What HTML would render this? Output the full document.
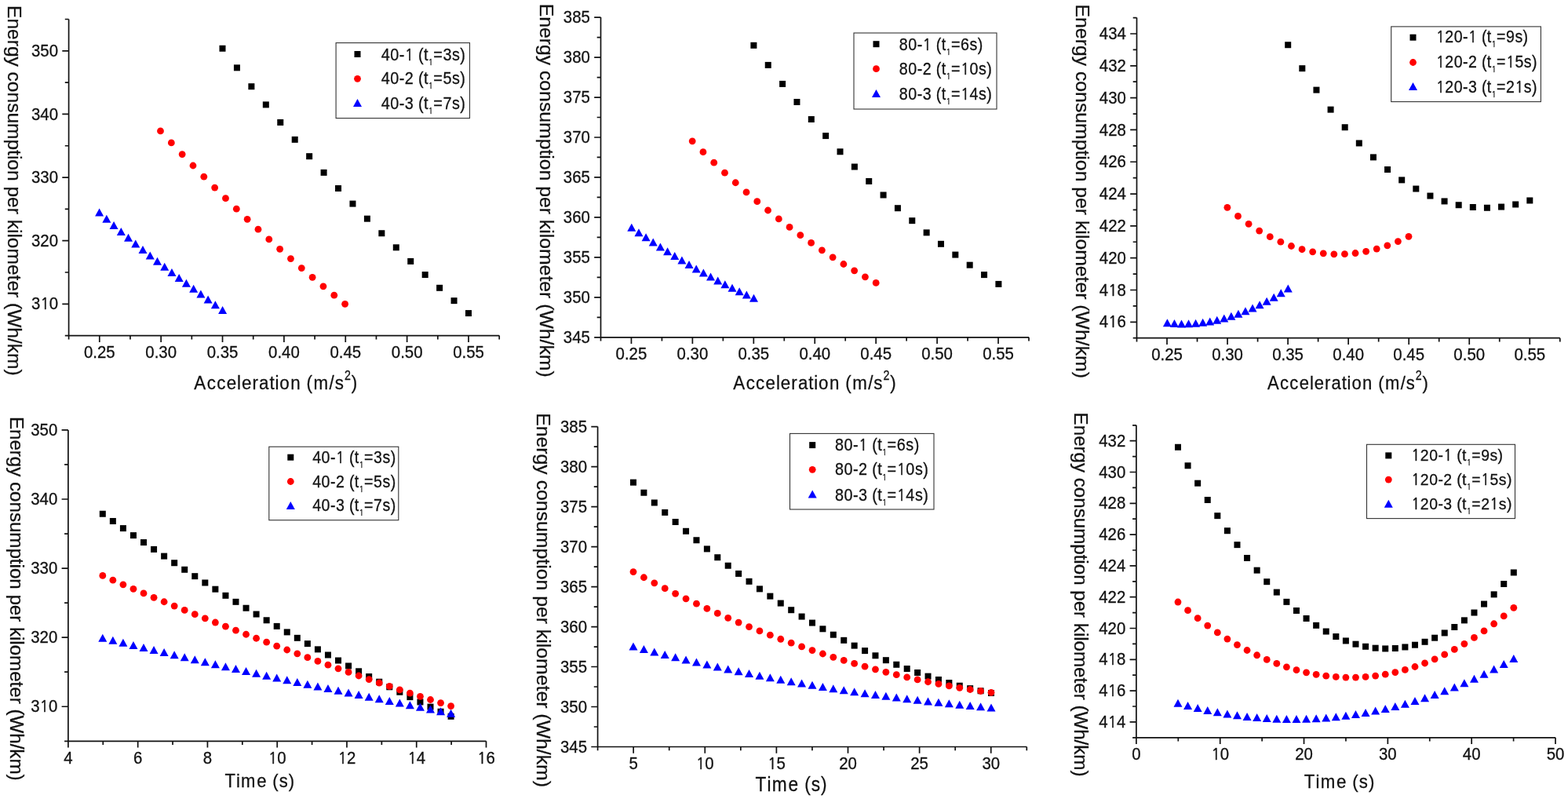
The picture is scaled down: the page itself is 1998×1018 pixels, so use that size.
<!DOCTYPE html><html><head><meta charset="utf-8"><title>Energy consumption per kilometer</title><style>html,body{margin:0;padding:0;background:#fff;overflow:hidden}svg{display:block}</style></head><body>
<svg width="1998" height="1018" viewBox="0 0 1998 1018" font-family="'Liberation Sans', Arial, Helvetica, sans-serif" fill="#111">
<style>text{stroke:#111;stroke-width:0.3px;paint-order:stroke}</style>
<rect width="1998" height="1018" fill="#fff"/>
<path d="M87.6 24.5V427.6H636.2M126.79 427.6v8.3M205.16 427.6v8.3M283.53 427.6v8.3M361.9 427.6v8.3M440.27 427.6v8.3M518.64 427.6v8.3M597.01 427.6v8.3M87.6 427.6v4.8M165.97 427.6v4.8M244.34 427.6v4.8M322.71 427.6v4.8M401.09 427.6v4.8M479.46 427.6v4.8M557.83 427.6v4.8M636.2 427.6v4.8M87.6 387.29h-8.3M87.6 306.67h-8.3M87.6 226.05h-8.3M87.6 145.43h-8.3M87.6 64.81h-8.3M87.6 427.6h-4.8M87.6 346.98h-4.8M87.6 266.36h-4.8M87.6 185.74h-4.8M87.6 105.12h-4.8M87.6 24.5h-4.8" fill="none" stroke="#111" stroke-width="1.7"/>
<text transform="translate(0 456.2) scale(1 1.04)"><tspan x="106.93 118.28 123.95 135.29" y="0" font-size="20.4">0.25</tspan></text>
<text transform="translate(0 456.2) scale(1 1.04)"><tspan x="185.3 196.65 202.32 213.66" y="0" font-size="20.4">0.30</tspan></text>
<text transform="translate(0 456.2) scale(1 1.04)"><tspan x="263.68 275.02 280.69 292.04" y="0" font-size="20.4">0.35</tspan></text>
<text transform="translate(0 456.2) scale(1 1.04)"><tspan x="342.05 353.39 359.06 370.41" y="0" font-size="20.4">0.40</tspan></text>
<text transform="translate(0 456.2) scale(1 1.04)"><tspan x="420.42 431.76 437.43 448.78" y="0" font-size="20.4">0.45</tspan></text>
<text transform="translate(0 456.2) scale(1 1.04)"><tspan x="498.79 510.14 515.8 527.15" y="0" font-size="20.4">0.50</tspan></text>
<text transform="translate(0 456.2) scale(1 1.04)"><tspan x="577.16 588.51 594.18 605.52" y="0" font-size="20.4">0.55</tspan></text>
<text transform="translate(0 394.39) scale(1 1.04)"><tspan x="39.96" y="0" font-size="20.4">3</tspan><tspan x="51.46" y="0" font-family="NanumGothic, &#39;Liberation Sans&#39;, sans-serif" stroke-width="0.51" font-size="18.67">1</tspan><tspan x="62.65" y="0" font-size="20.4">0</tspan></text>
<text transform="translate(0 313.77) scale(1 1.04)"><tspan x="39.96 51.31 62.65" y="0" font-size="20.4">320</tspan></text>
<text transform="translate(0 233.15) scale(1 1.04)"><tspan x="39.96 51.31 62.65" y="0" font-size="20.4">330</tspan></text>
<text transform="translate(0 152.53) scale(1 1.04)"><tspan x="39.96 51.31 62.65" y="0" font-size="20.4">340</tspan></text>
<text transform="translate(0 71.91) scale(1 1.04)"><tspan x="39.96 51.31 62.65" y="0" font-size="20.4">350</tspan></text>
<text transform="translate(10 0) rotate(90) scale(1 1)"><tspan x="7.09 23.44 37.08 50.72 58.89 72.53 84.79 91.6 103.86 117.5 131.14 143.4 157.04 177.46 191.1 197.92 203.36 217 230.64 237.45 251.09 264.73 272.9 279.71 291.97 297.42 302.87 316.5 336.93 350.57 357.38 371.02 379.19 386 394.17 417.31 430.95 437.76 450.02 470.45" y="0" font-size="24.52">Energy consumption per kilometer (Wh/km)</tspan></text>
<text transform="translate(0 495.5) scale(0.9 1)"><tspan x="274.84 293.03 306.83 320.71 335.61 342.21 357.25 366.76 381.73 389.32 395.92 411.27 426.25 433.99 443.88 466.11 474.09" y="0" font-size="24.85">Acceleration (m/s</tspan><tspan x="487.69" y="-11.8" font-size="15.8">2</tspan><tspan x="497.43" y="0" font-size="24.85">)</tspan></text>
<g fill="#000"><rect x="279.5" y="57.76" width="8" height="8"/><rect x="297.94" y="82.33" width="8" height="8"/><rect x="316.38" y="106.19" width="8" height="8"/><rect x="334.82" y="129.39" width="8" height="8"/><rect x="353.26" y="151.94" width="8" height="8"/><rect x="371.71" y="173.85" width="8" height="8"/><rect x="390.15" y="195.16" width="8" height="8"/><rect x="408.59" y="215.87" width="8" height="8"/><rect x="427.03" y="236.02" width="8" height="8"/><rect x="445.47" y="255.61" width="8" height="8"/><rect x="463.91" y="274.68" width="8" height="8"/><rect x="482.35" y="293.24" width="8" height="8"/><rect x="500.79" y="311.32" width="8" height="8"/><rect x="519.24" y="328.92" width="8" height="8"/><rect x="537.68" y="346.08" width="8" height="8"/><rect x="556.12" y="362.81" width="8" height="8"/><rect x="574.56" y="379.14" width="8" height="8"/><rect x="593" y="395.08" width="8" height="8"/></g>
<g fill="#f00"><circle cx="204.5" cy="166.95" r="4.4"/><circle cx="218.33" cy="181.89" r="4.4"/><circle cx="232.16" cy="196.58" r="4.4"/><circle cx="245.99" cy="211" r="4.4"/><circle cx="259.82" cy="225.16" r="4.4"/><circle cx="273.65" cy="239.07" r="4.4"/><circle cx="287.48" cy="252.72" r="4.4"/><circle cx="301.31" cy="266.13" r="4.4"/><circle cx="315.14" cy="279.29" r="4.4"/><circle cx="328.96" cy="292.22" r="4.4"/><circle cx="342.79" cy="304.9" r="4.4"/><circle cx="356.62" cy="317.35" r="4.4"/><circle cx="370.45" cy="329.56" r="4.4"/><circle cx="384.28" cy="341.55" r="4.4"/><circle cx="398.11" cy="353.31" r="4.4"/><circle cx="411.94" cy="364.86" r="4.4"/><circle cx="425.77" cy="376.18" r="4.4"/><circle cx="439.6" cy="387.29" r="4.4"/></g>
<g fill="#00f"><path d="M126.6 265.43L132.1 275.43L121.1 275.43Z"/><path d="M135.84 273.82L141.34 283.82L130.34 283.82Z"/><path d="M145.07 282L150.57 292L139.57 292Z"/><path d="M154.31 290L159.81 300L148.81 300Z"/><path d="M163.54 297.82L169.04 307.82L158.04 307.82Z"/><path d="M172.78 305.49L178.28 315.49L167.28 315.49Z"/><path d="M182.01 313.01L187.51 323.01L176.51 323.01Z"/><path d="M191.25 320.4L196.75 330.4L185.75 330.4Z"/><path d="M200.48 327.67L205.98 337.67L194.98 337.67Z"/><path d="M209.72 334.83L215.22 344.83L204.22 344.83Z"/><path d="M218.95 341.91L224.45 351.91L213.45 351.91Z"/><path d="M228.19 348.91L233.69 358.91L222.69 358.91Z"/><path d="M237.42 355.84L242.92 365.84L231.92 365.84Z"/><path d="M246.66 362.73L252.16 372.73L241.16 372.73Z"/><path d="M255.89 369.57L261.39 379.57L250.39 379.57Z"/><path d="M265.13 376.4L270.63 386.4L259.63 386.4Z"/><path d="M274.36 383.22L279.86 393.22L268.86 393.22Z"/><path d="M283.6 390.04L289.1 400.04L278.1 400.04Z"/></g>
<rect x="428.1" y="54.6" width="170.4" height="96" fill="#fff" stroke="#333" stroke-width="1.1"/>
<g fill="#000"><rect x="451.5" y="65" width="8" height="8"/></g>
<g fill="#f00"><circle cx="455.5" cy="100.3" r="4.4"/></g>
<g fill="#00f"><path d="M455.5 126.1L461 136.1L450 136.1Z"/></g>
<text transform="translate(0 76.6) scale(0.95 1.03)"><tspan x="511.21 523.41 535.5" y="0" font-size="20.85">40-</tspan><tspan x="543.04" y="0" font-family="NanumGothic, &#39;Liberation Sans&#39;, sans-serif" stroke-width="0.52" font-size="19.08">1</tspan><tspan x="554.98 561.11 568.39" y="0" font-size="20.85"> (t</tspan><tspan x="574.56" y="6" font-family="NanumGothic, &#39;Liberation Sans&#39;, sans-serif" stroke-width="0.29" font-size="10.52">1</tspan><tspan x="581.38 594.19 606.36 617.24" y="0" font-size="20.85">=3s)</tspan></text>
<text transform="translate(0 107.1) scale(0.95 1.03)"><tspan x="511.21 523.41 535.5 542.93 554.98 561.11 568.39" y="0" font-size="20.85">40-2 (t</tspan><tspan x="574.56" y="6" font-family="NanumGothic, &#39;Liberation Sans&#39;, sans-serif" stroke-width="0.29" font-size="10.52">1</tspan><tspan x="581.38 594.19 606.36 617.24" y="0" font-size="20.85">=5s)</tspan></text>
<text transform="translate(0 138.8) scale(0.95 1.03)"><tspan x="511.21 523.41 535.5 542.93 554.98 561.11 568.39" y="0" font-size="20.85">40-3 (t</tspan><tspan x="574.56" y="6" font-family="NanumGothic, &#39;Liberation Sans&#39;, sans-serif" stroke-width="0.29" font-size="10.52">1</tspan><tspan x="581.38 594.19 606.36 617.24" y="0" font-size="20.85">=7s)</tspan></text>
<path d="M765.5 22.1V429.8H1311M804.46 429.8v8.3M882.39 429.8v8.3M960.32 429.8v8.3M1038.25 429.8v8.3M1116.18 429.8v8.3M1194.11 429.8v8.3M1272.04 429.8v8.3M765.5 429.8v4.8M843.43 429.8v4.8M921.36 429.8v4.8M999.29 429.8v4.8M1077.21 429.8v4.8M1155.14 429.8v4.8M1233.07 429.8v4.8M1311 429.8v4.8M765.5 429.8h-8.3M765.5 378.84h-8.3M765.5 327.88h-8.3M765.5 276.91h-8.3M765.5 225.95h-8.3M765.5 174.99h-8.3M765.5 124.03h-8.3M765.5 73.06h-8.3M765.5 22.1h-8.3M765.5 404.32h-4.8M765.5 353.36h-4.8M765.5 302.39h-4.8M765.5 251.43h-4.8M765.5 200.47h-4.8M765.5 149.51h-4.8M765.5 98.54h-4.8M765.5 47.58h-4.8" fill="none" stroke="#111" stroke-width="1.7"/>
<text transform="translate(0 458.4) scale(1 1.04)"><tspan x="784.61 795.96 801.63 812.97" y="0" font-size="20.4">0.25</tspan></text>
<text transform="translate(0 458.4) scale(1 1.04)"><tspan x="862.54 873.89 879.55 890.9" y="0" font-size="20.4">0.30</tspan></text>
<text transform="translate(0 458.4) scale(1 1.04)"><tspan x="940.47 951.81 957.48 968.83" y="0" font-size="20.4">0.35</tspan></text>
<text transform="translate(0 458.4) scale(1 1.04)"><tspan x="1018.4 1029.74 1035.41 1046.76" y="0" font-size="20.4">0.40</tspan></text>
<text transform="translate(0 458.4) scale(1 1.04)"><tspan x="1096.33 1107.67 1113.34 1124.69" y="0" font-size="20.4">0.45</tspan></text>
<text transform="translate(0 458.4) scale(1 1.04)"><tspan x="1174.25 1185.6 1191.27 1202.61" y="0" font-size="20.4">0.50</tspan></text>
<text transform="translate(0 458.4) scale(1 1.04)"><tspan x="1252.18 1263.53 1269.2 1280.54" y="0" font-size="20.4">0.55</tspan></text>
<text transform="translate(0 436.9) scale(1 1.04)"><tspan x="717.86 729.21 740.55" y="0" font-size="20.4">345</tspan></text>
<text transform="translate(0 385.94) scale(1 1.04)"><tspan x="717.86 729.21 740.55" y="0" font-size="20.4">350</tspan></text>
<text transform="translate(0 334.98) scale(1 1.04)"><tspan x="717.86 729.21 740.55" y="0" font-size="20.4">355</tspan></text>
<text transform="translate(0 284.01) scale(1 1.04)"><tspan x="717.86 729.21 740.55" y="0" font-size="20.4">360</tspan></text>
<text transform="translate(0 233.05) scale(1 1.04)"><tspan x="717.86 729.21 740.55" y="0" font-size="20.4">365</tspan></text>
<text transform="translate(0 182.09) scale(1 1.04)"><tspan x="717.86 729.21 740.55" y="0" font-size="20.4">370</tspan></text>
<text transform="translate(0 131.13) scale(1 1.04)"><tspan x="717.86 729.21 740.55" y="0" font-size="20.4">375</tspan></text>
<text transform="translate(0 80.16) scale(1 1.04)"><tspan x="717.86 729.21 740.55" y="0" font-size="20.4">380</tspan></text>
<text transform="translate(0 29.2) scale(1 1.04)"><tspan x="717.86 729.21 740.55" y="0" font-size="20.4">385</tspan></text>
<text transform="translate(688.2 0) rotate(90) scale(1 1)"><tspan x="4.67 21.18 34.95 48.71 56.96 70.72 83.1 89.98 102.35 116.12 129.88 142.26 156.03 176.65 190.41 197.29 202.79 216.56 230.32 237.2 250.97 264.73 272.98 279.85 292.23 297.73 303.23 316.99 337.61 351.38 358.26 372.02 380.27 387.14 395.39 418.75 432.52 439.39 451.77 472.39" y="0" font-size="24.75">Energy consumption per kilometer (Wh/km)</tspan></text>
<text transform="translate(0 495.9) scale(0.9 1)"><tspan x="1038.17 1056.32 1070.1 1083.96 1098.82 1105.4 1120.42 1129.9 1144.85 1152.43 1159.01 1174.33 1189.27 1197.01 1206.87 1229.06 1237.02" y="0" font-size="24.8">Acceleration (m/s</tspan><tspan x="1250.6" y="-11.8" font-size="15.8">2</tspan><tspan x="1260.33" y="0" font-size="24.8">)</tspan></text>
<g fill="#000"><rect x="956.4" y="53.83" width="8" height="8"/><rect x="974.75" y="78.9" width="8" height="8"/><rect x="993.11" y="102.93" width="8" height="8"/><rect x="1011.46" y="125.96" width="8" height="8"/><rect x="1029.81" y="148" width="8" height="8"/><rect x="1048.16" y="169.09" width="8" height="8"/><rect x="1066.52" y="189.26" width="8" height="8"/><rect x="1084.87" y="208.52" width="8" height="8"/><rect x="1103.22" y="226.92" width="8" height="8"/><rect x="1121.58" y="244.48" width="8" height="8"/><rect x="1139.93" y="261.22" width="8" height="8"/><rect x="1158.28" y="277.17" width="8" height="8"/><rect x="1176.64" y="292.37" width="8" height="8"/><rect x="1194.99" y="306.83" width="8" height="8"/><rect x="1213.34" y="320.59" width="8" height="8"/><rect x="1231.69" y="333.68" width="8" height="8"/><rect x="1250.05" y="346.12" width="8" height="8"/><rect x="1268.4" y="357.93" width="8" height="8"/></g>
<g fill="#f00"><circle cx="882.2" cy="179.81" r="4.4"/><circle cx="895.96" cy="193.71" r="4.4"/><circle cx="909.73" cy="207.16" r="4.4"/><circle cx="923.49" cy="220.18" r="4.4"/><circle cx="937.26" cy="232.76" r="4.4"/><circle cx="951.02" cy="244.92" r="4.4"/><circle cx="964.79" cy="256.66" r="4.4"/><circle cx="978.55" cy="268" r="4.4"/><circle cx="992.32" cy="278.93" r="4.4"/><circle cx="1006.08" cy="289.47" r="4.4"/><circle cx="1019.85" cy="299.63" r="4.4"/><circle cx="1033.61" cy="309.4" r="4.4"/><circle cx="1047.38" cy="318.8" r="4.4"/><circle cx="1061.14" cy="327.83" r="4.4"/><circle cx="1074.91" cy="336.51" r="4.4"/><circle cx="1088.67" cy="344.84" r="4.4"/><circle cx="1102.44" cy="352.82" r="4.4"/><circle cx="1116.2" cy="360.46" r="4.4"/></g>
<g fill="#00f"><path d="M804.8 284.78L810.3 294.78L799.3 294.78Z"/><path d="M813.96 291.14L819.46 301.14L808.46 301.14Z"/><path d="M823.12 297.37L828.62 307.37L817.62 307.37Z"/><path d="M832.28 303.48L837.78 313.48L826.78 313.48Z"/><path d="M841.44 309.47L846.94 319.47L835.94 319.47Z"/><path d="M850.59 315.32L856.09 325.32L845.09 325.32Z"/><path d="M859.75 321.04L865.25 331.04L854.25 331.04Z"/><path d="M868.91 326.62L874.41 336.62L863.41 336.62Z"/><path d="M878.07 332.08L883.57 342.08L872.57 342.08Z"/><path d="M887.23 337.39L892.73 347.39L881.73 347.39Z"/><path d="M896.39 342.56L901.89 352.56L890.89 352.56Z"/><path d="M905.55 347.6L911.05 357.6L900.05 357.6Z"/><path d="M914.71 352.49L920.21 362.49L909.21 362.49Z"/><path d="M923.86 357.23L929.36 367.23L918.36 367.23Z"/><path d="M933.02 361.83L938.52 371.83L927.52 371.83Z"/><path d="M942.18 366.28L947.68 376.28L936.68 376.28Z"/><path d="M951.34 370.58L956.84 380.58L945.84 380.58Z"/><path d="M960.5 374.73L966 384.73L955 384.73Z"/></g>
<rect x="1088" y="42" width="182" height="97" fill="#fff" stroke="#333" stroke-width="1.1"/>
<g fill="#000"><rect x="1112.5" y="52.2" width="8" height="8"/></g>
<g fill="#f00"><circle cx="1116.5" cy="87.7" r="4.4"/></g>
<g fill="#00f"><path d="M1116.5 114L1122 124L1111 124Z"/></g>
<text transform="translate(0 63.6) scale(0.95 1.03)"><tspan x="1206.05 1218.17 1230.16" y="0" font-size="20.7">80-</tspan><tspan x="1237.65" y="0" font-family="NanumGothic, &#39;Liberation Sans&#39;, sans-serif" stroke-width="0.52" font-size="18.94">1</tspan><tspan x="1249.51 1255.59 1262.82" y="0" font-size="20.7"> (t</tspan><tspan x="1268.95" y="6" font-family="NanumGothic, &#39;Liberation Sans&#39;, sans-serif" stroke-width="0.29" font-size="10.52">1</tspan><tspan x="1275.77 1288.48 1300.57 1311.37" y="0" font-size="20.7">=6s)</tspan></text>
<text transform="translate(0 94.8) scale(0.95 1.03)"><tspan x="1206.05 1218.17 1230.16 1237.54 1249.51 1255.59 1262.82" y="0" font-size="20.7">80-2 (t</tspan><tspan x="1268.95" y="6" font-family="NanumGothic, &#39;Liberation Sans&#39;, sans-serif" stroke-width="0.29" font-size="10.52">1</tspan><tspan x="1275.77" y="0" font-size="20.7">=</tspan><tspan x="1288.59" y="0" font-family="NanumGothic, &#39;Liberation Sans&#39;, sans-serif" stroke-width="0.52" font-size="18.94">1</tspan><tspan x="1300.6 1312.69 1323.49" y="0" font-size="20.7">0s)</tspan></text>
<text transform="translate(0 127.2) scale(0.95 1.03)"><tspan x="1206.05 1218.17 1230.16 1237.54 1249.51 1255.59 1262.82" y="0" font-size="20.7">80-3 (t</tspan><tspan x="1268.95" y="6" font-family="NanumGothic, &#39;Liberation Sans&#39;, sans-serif" stroke-width="0.29" font-size="10.52">1</tspan><tspan x="1275.77" y="0" font-size="20.7">=</tspan><tspan x="1288.59" y="0" font-family="NanumGothic, &#39;Liberation Sans&#39;, sans-serif" stroke-width="0.52" font-size="18.94">1</tspan><tspan x="1300.6 1312.69 1323.49" y="0" font-size="20.7">4s)</tspan></text>
<path d="M1448.5 22.6V430.7H1987.8M1487.02 430.7v8.3M1564.06 430.7v8.3M1641.11 430.7v8.3M1718.15 430.7v8.3M1795.19 430.7v8.3M1872.24 430.7v8.3M1949.28 430.7v8.3M1448.5 430.7v4.8M1525.54 430.7v4.8M1602.59 430.7v4.8M1679.63 430.7v4.8M1756.67 430.7v4.8M1833.71 430.7v4.8M1910.76 430.7v4.8M1987.8 430.7v4.8M1448.5 410.29h-8.3M1448.5 369.49h-8.3M1448.5 328.68h-8.3M1448.5 287.87h-8.3M1448.5 247.06h-8.3M1448.5 206.24h-8.3M1448.5 165.44h-8.3M1448.5 124.62h-8.3M1448.5 83.82h-8.3M1448.5 43.01h-8.3M1448.5 430.7h-4.8M1448.5 389.89h-4.8M1448.5 349.08h-4.8M1448.5 308.27h-4.8M1448.5 267.46h-4.8M1448.5 226.65h-4.8M1448.5 185.84h-4.8M1448.5 145.03h-4.8M1448.5 104.22h-4.8M1448.5 63.41h-4.8M1448.5 22.6h-4.8" fill="none" stroke="#111" stroke-width="1.7"/>
<text transform="translate(0 459.3) scale(1 1.04)"><tspan x="1467.17 1478.51 1484.18 1495.53" y="0" font-size="20.4">0.25</tspan></text>
<text transform="translate(0 459.3) scale(1 1.04)"><tspan x="1544.21 1555.56 1561.23 1572.57" y="0" font-size="20.4">0.30</tspan></text>
<text transform="translate(0 459.3) scale(1 1.04)"><tspan x="1621.25 1632.6 1638.27 1649.61" y="0" font-size="20.4">0.35</tspan></text>
<text transform="translate(0 459.3) scale(1 1.04)"><tspan x="1698.3 1709.64 1715.31 1726.66" y="0" font-size="20.4">0.40</tspan></text>
<text transform="translate(0 459.3) scale(1 1.04)"><tspan x="1775.34 1786.69 1792.35 1803.7" y="0" font-size="20.4">0.45</tspan></text>
<text transform="translate(0 459.3) scale(1 1.04)"><tspan x="1852.38 1863.73 1869.4 1880.74" y="0" font-size="20.4">0.50</tspan></text>
<text transform="translate(0 459.3) scale(1 1.04)"><tspan x="1929.43 1940.77 1946.44 1957.79" y="0" font-size="20.4">0.55</tspan></text>
<text transform="translate(0 417.39) scale(1 1.04)"><tspan x="1400.86" y="0" font-size="20.4">4</tspan><tspan x="1412.36" y="0" font-family="NanumGothic, &#39;Liberation Sans&#39;, sans-serif" stroke-width="0.51" font-size="18.67">1</tspan><tspan x="1423.55" y="0" font-size="20.4">6</tspan></text>
<text transform="translate(0 376.59) scale(1 1.04)"><tspan x="1400.86" y="0" font-size="20.4">4</tspan><tspan x="1412.36" y="0" font-family="NanumGothic, &#39;Liberation Sans&#39;, sans-serif" stroke-width="0.51" font-size="18.67">1</tspan><tspan x="1423.55" y="0" font-size="20.4">8</tspan></text>
<text transform="translate(0 335.78) scale(1 1.04)"><tspan x="1400.86 1412.21 1423.55" y="0" font-size="20.4">420</tspan></text>
<text transform="translate(0 294.97) scale(1 1.04)"><tspan x="1400.86 1412.21 1423.55" y="0" font-size="20.4">422</tspan></text>
<text transform="translate(0 254.16) scale(1 1.04)"><tspan x="1400.86 1412.21 1423.55" y="0" font-size="20.4">424</tspan></text>
<text transform="translate(0 213.34) scale(1 1.04)"><tspan x="1400.86 1412.21 1423.55" y="0" font-size="20.4">426</tspan></text>
<text transform="translate(0 172.53) scale(1 1.04)"><tspan x="1400.86 1412.21 1423.55" y="0" font-size="20.4">428</tspan></text>
<text transform="translate(0 131.72) scale(1 1.04)"><tspan x="1400.86 1412.21 1423.55" y="0" font-size="20.4">430</tspan></text>
<text transform="translate(0 90.92) scale(1 1.04)"><tspan x="1400.86 1412.21 1423.55" y="0" font-size="20.4">432</tspan></text>
<text transform="translate(0 50.11) scale(1 1.04)"><tspan x="1400.86 1412.21 1423.55" y="0" font-size="20.4">434</tspan></text>
<text transform="translate(1370.8 0) rotate(90) scale(1 1)"><tspan x="5.57 22.09 35.87 49.65 57.9 71.68 84.06 90.95 103.33 117.11 130.89 143.28 157.05 177.69 191.47 198.35 203.86 217.63 231.41 238.3 252.07 265.85 274.1 280.98 293.37 298.88 304.38 318.16 338.79 352.57 359.46 373.23 381.48 388.37 396.62 420 433.78 440.66 453.05 473.68" y="0" font-size="24.77">Energy consumption per kilometer (Wh/km)</tspan></text>
<text transform="translate(0 495.5) scale(0.9 1)"><tspan x="1794.4 1812.33 1825.94 1839.62 1854.31 1860.81 1875.65 1885.02 1899.78 1907.27 1913.77 1928.91 1943.67 1951.31 1961.05 1982.97 1990.84" y="0" font-size="24.5">Acceleration (m/s</tspan><tspan x="2004.26" y="-11.8" font-size="15.8">2</tspan><tspan x="2013.99" y="0" font-size="24.5">)</tspan></text>
<g fill="#000"><rect x="1637.2" y="53.23" width="8" height="8"/><rect x="1655.32" y="83.17" width="8" height="8"/><rect x="1673.45" y="110.63" width="8" height="8"/><rect x="1691.57" y="135.63" width="8" height="8"/><rect x="1709.69" y="158.23" width="8" height="8"/><rect x="1727.82" y="178.46" width="8" height="8"/><rect x="1745.94" y="196.37" width="8" height="8"/><rect x="1764.06" y="211.99" width="8" height="8"/><rect x="1782.19" y="225.37" width="8" height="8"/><rect x="1800.31" y="236.54" width="8" height="8"/><rect x="1818.44" y="245.55" width="8" height="8"/><rect x="1836.56" y="252.43" width="8" height="8"/><rect x="1854.68" y="257.24" width="8" height="8"/><rect x="1872.81" y="260" width="8" height="8"/><rect x="1890.93" y="260.77" width="8" height="8"/><rect x="1909.05" y="259.57" width="8" height="8"/><rect x="1927.18" y="256.46" width="8" height="8"/><rect x="1945.3" y="251.47" width="8" height="8"/></g>
<g fill="#f00"><circle cx="1563.9" cy="264.32" r="4.4"/><circle cx="1577.49" cy="275.43" r="4.4"/><circle cx="1591.09" cy="285.35" r="4.4"/><circle cx="1604.68" cy="294.11" r="4.4"/><circle cx="1618.28" cy="301.72" r="4.4"/><circle cx="1631.87" cy="308.18" r="4.4"/><circle cx="1645.46" cy="313.51" r="4.4"/><circle cx="1659.06" cy="317.73" r="4.4"/><circle cx="1672.65" cy="320.84" r="4.4"/><circle cx="1686.25" cy="322.86" r="4.4"/><circle cx="1699.84" cy="323.81" r="4.4"/><circle cx="1713.44" cy="323.69" r="4.4"/><circle cx="1727.03" cy="322.52" r="4.4"/><circle cx="1740.62" cy="320.31" r="4.4"/><circle cx="1754.22" cy="317.08" r="4.4"/><circle cx="1767.81" cy="312.83" r="4.4"/><circle cx="1781.41" cy="307.58" r="4.4"/><circle cx="1795" cy="301.35" r="4.4"/></g>
<g fill="#00f"><path d="M1487.4 406.19L1492.9 416.19L1481.9 416.19Z"/><path d="M1496.45 407.03L1501.95 417.03L1490.95 417.03Z"/><path d="M1505.51 407.41L1511.01 417.41L1500.01 417.41Z"/><path d="M1514.56 407.33L1520.06 417.33L1509.06 417.33Z"/><path d="M1523.61 406.82L1529.11 416.82L1518.11 416.82Z"/><path d="M1532.66 405.87L1538.16 415.87L1527.16 415.87Z"/><path d="M1541.72 404.49L1547.22 414.49L1536.22 414.49Z"/><path d="M1550.77 402.68L1556.27 412.68L1545.27 412.68Z"/><path d="M1559.82 400.45L1565.32 410.45L1554.32 410.45Z"/><path d="M1568.88 397.81L1574.38 407.81L1563.38 407.81Z"/><path d="M1577.93 394.76L1583.43 404.76L1572.43 404.76Z"/><path d="M1586.98 391.32L1592.48 401.32L1581.48 401.32Z"/><path d="M1596.04 387.47L1601.54 397.47L1590.54 397.47Z"/><path d="M1605.09 383.24L1610.59 393.24L1599.59 393.24Z"/><path d="M1614.14 378.63L1619.64 388.63L1608.64 388.63Z"/><path d="M1623.19 373.64L1628.69 383.64L1617.69 383.64Z"/><path d="M1632.25 368.29L1637.75 378.29L1626.75 378.29Z"/><path d="M1641.3 362.56L1646.8 372.56L1635.8 372.56Z"/></g>
<rect x="1772.7" y="33.9" width="190.7" height="95.7" fill="#fff" stroke="#333" stroke-width="1.1"/>
<g fill="#000"><rect x="1796.5" y="43.7" width="8" height="8"/></g>
<g fill="#f00"><circle cx="1800.5" cy="79.5" r="4.4"/></g>
<g fill="#00f"><path d="M1800.5 104.9L1806 114.9L1795 114.9Z"/></g>
<text transform="translate(0 54.2) scale(0.95 1.03)"><tspan x="1926.23" y="0" font-family="NanumGothic, &#39;Liberation Sans&#39;, sans-serif" stroke-width="0.52" font-size="18.8">1</tspan><tspan x="1938.15 1950.18 1962.09" y="0" font-size="20.55">20-</tspan><tspan x="1969.52" y="0" font-family="NanumGothic, &#39;Liberation Sans&#39;, sans-serif" stroke-width="0.52" font-size="18.8">1</tspan><tspan x="1981.29 1987.33 1994.51" y="0" font-size="20.55"> (t</tspan><tspan x="2000.6" y="6" font-family="NanumGothic, &#39;Liberation Sans&#39;, sans-serif" stroke-width="0.29" font-size="10.52">1</tspan><tspan x="2007.41 2020.03 2032.03 2042.76" y="0" font-size="20.55">=9s)</tspan></text>
<text transform="translate(0 86) scale(0.95 1.03)"><tspan x="1926.23" y="0" font-family="NanumGothic, &#39;Liberation Sans&#39;, sans-serif" stroke-width="0.52" font-size="18.8">1</tspan><tspan x="1938.15 1950.18 1962.09 1969.41 1981.29 1987.33 1994.51" y="0" font-size="20.55">20-2 (t</tspan><tspan x="2000.6" y="6" font-family="NanumGothic, &#39;Liberation Sans&#39;, sans-serif" stroke-width="0.29" font-size="10.52">1</tspan><tspan x="2007.41" y="0" font-size="20.55">=</tspan><tspan x="2020.14" y="0" font-family="NanumGothic, &#39;Liberation Sans&#39;, sans-serif" stroke-width="0.52" font-size="18.8">1</tspan><tspan x="2032.06 2044.06 2054.79" y="0" font-size="20.55">5s)</tspan></text>
<text transform="translate(0 117.9) scale(0.95 1.03)"><tspan x="1926.23" y="0" font-family="NanumGothic, &#39;Liberation Sans&#39;, sans-serif" stroke-width="0.52" font-size="18.8">1</tspan><tspan x="1938.15 1950.18 1962.09 1969.41 1981.29 1987.33 1994.51" y="0" font-size="20.55">20-3 (t</tspan><tspan x="2000.6" y="6" font-family="NanumGothic, &#39;Liberation Sans&#39;, sans-serif" stroke-width="0.29" font-size="10.52">1</tspan><tspan x="2007.41 2020.03" y="0" font-size="20.55">=2</tspan><tspan x="2032.17" y="0" font-family="NanumGothic, &#39;Liberation Sans&#39;, sans-serif" stroke-width="0.52" font-size="18.8">1</tspan><tspan x="2044.06 2054.79" y="0" font-size="20.55">s)</tspan></text>
<path d="M86.9 547.9V944.3H619.5M86.9 944.3v8.3M175.67 944.3v8.3M264.43 944.3v8.3M353.2 944.3v8.3M441.97 944.3v8.3M530.73 944.3v8.3M619.5 944.3v8.3M131.28 944.3v4.8M220.05 944.3v4.8M308.82 944.3v4.8M397.58 944.3v4.8M486.35 944.3v4.8M575.12 944.3v4.8M86.9 900.26h-8.3M86.9 812.17h-8.3M86.9 724.08h-8.3M86.9 635.99h-8.3M86.9 547.9h-8.3M86.9 944.3h-4.8M86.9 856.21h-4.8M86.9 768.12h-4.8M86.9 680.03h-4.8M86.9 591.94h-4.8" fill="none" stroke="#111" stroke-width="1.7"/>
<text transform="translate(0 972.9) scale(1 1.04)"><tspan x="81.23" y="0" font-size="20.4">4</tspan></text>
<text transform="translate(0 972.9) scale(1 1.04)"><tspan x="169.99" y="0" font-size="20.4">6</tspan></text>
<text transform="translate(0 972.9) scale(1 1.04)"><tspan x="258.76" y="0" font-size="20.4">8</tspan></text>
<text transform="translate(0 972.9) scale(1 1.04)"><tspan x="342" y="0" font-family="NanumGothic, &#39;Liberation Sans&#39;, sans-serif" stroke-width="0.51" font-size="18.67">1</tspan><tspan x="353.2" y="0" font-size="20.4">0</tspan></text>
<text transform="translate(0 972.9) scale(1 1.04)"><tspan x="430.77" y="0" font-family="NanumGothic, &#39;Liberation Sans&#39;, sans-serif" stroke-width="0.51" font-size="18.67">1</tspan><tspan x="441.97" y="0" font-size="20.4">2</tspan></text>
<text transform="translate(0 972.9) scale(1 1.04)"><tspan x="519.54" y="0" font-family="NanumGothic, &#39;Liberation Sans&#39;, sans-serif" stroke-width="0.51" font-size="18.67">1</tspan><tspan x="530.73" y="0" font-size="20.4">4</tspan></text>
<text transform="translate(0 972.9) scale(1 1.04)"><tspan x="608.3" y="0" font-family="NanumGothic, &#39;Liberation Sans&#39;, sans-serif" stroke-width="0.51" font-size="18.67">1</tspan><tspan x="619.5" y="0" font-size="20.4">6</tspan></text>
<text transform="translate(0 907.36) scale(1 1.04)"><tspan x="39.26" y="0" font-size="20.4">3</tspan><tspan x="50.76" y="0" font-family="NanumGothic, &#39;Liberation Sans&#39;, sans-serif" stroke-width="0.51" font-size="18.67">1</tspan><tspan x="61.95" y="0" font-size="20.4">0</tspan></text>
<text transform="translate(0 819.27) scale(1 1.04)"><tspan x="39.26 50.61 61.95" y="0" font-size="20.4">320</tspan></text>
<text transform="translate(0 731.18) scale(1 1.04)"><tspan x="39.26 50.61 61.95" y="0" font-size="20.4">330</tspan></text>
<text transform="translate(0 643.09) scale(1 1.04)"><tspan x="39.26 50.61 61.95" y="0" font-size="20.4">340</tspan></text>
<text transform="translate(0 555) scale(1 1.04)"><tspan x="39.26 50.61 61.95" y="0" font-size="20.4">350</tspan></text>
<text transform="translate(13.2 0) rotate(90) scale(1 1)"><tspan x="530.92 547 560.41 573.82 581.85 595.25 607.31 614.01 626.06 639.47 652.88 664.93 678.34 698.42 711.83 718.53 723.88 737.29 750.7 757.4 770.81 784.21 792.24 798.94 810.99 816.35 821.71 835.12 855.2 868.61 875.3 888.71 896.74 903.44 911.47 934.22 947.63 954.33 966.38 986.46" y="0" font-size="24.11">Energy consumption per kilometer (Wh/km)</tspan></text>
<text transform="translate(0 1002.5) scale(0.9 1)"><tspan x="318.23 334.33 341.21 363.51 378.27 385.9 395.2 408.58" y="0" font-size="24.5">Time (s)</tspan></text>
<g fill="#000"><rect x="126.8" y="650.75" width="8" height="8"/><rect x="139.85" y="659.98" width="8" height="8"/><rect x="152.91" y="669.11" width="8" height="8"/><rect x="165.96" y="678.14" width="8" height="8"/><rect x="179.01" y="687.07" width="8" height="8"/><rect x="192.06" y="695.89" width="8" height="8"/><rect x="205.12" y="704.61" width="8" height="8"/><rect x="218.17" y="713.23" width="8" height="8"/><rect x="231.22" y="721.75" width="8" height="8"/><rect x="244.28" y="730.17" width="8" height="8"/><rect x="257.33" y="738.49" width="8" height="8"/><rect x="270.38" y="746.7" width="8" height="8"/><rect x="283.44" y="754.81" width="8" height="8"/><rect x="296.49" y="762.83" width="8" height="8"/><rect x="309.54" y="770.74" width="8" height="8"/><rect x="322.59" y="778.55" width="8" height="8"/><rect x="335.65" y="786.27" width="8" height="8"/><rect x="348.7" y="793.88" width="8" height="8"/><rect x="361.75" y="801.4" width="8" height="8"/><rect x="374.81" y="808.82" width="8" height="8"/><rect x="387.86" y="816.14" width="8" height="8"/><rect x="400.91" y="823.36" width="8" height="8"/><rect x="413.96" y="830.49" width="8" height="8"/><rect x="427.02" y="837.52" width="8" height="8"/><rect x="440.07" y="844.46" width="8" height="8"/><rect x="453.12" y="851.3" width="8" height="8"/><rect x="466.18" y="858.05" width="8" height="8"/><rect x="479.23" y="864.71" width="8" height="8"/><rect x="492.28" y="871.27" width="8" height="8"/><rect x="505.34" y="877.74" width="8" height="8"/><rect x="518.39" y="884.12" width="8" height="8"/><rect x="531.44" y="890.42" width="8" height="8"/><rect x="544.49" y="896.62" width="8" height="8"/><rect x="557.55" y="902.74" width="8" height="8"/><rect x="570.6" y="908.77" width="8" height="8"/></g>
<g fill="#f00"><circle cx="130.8" cy="733.42" r="4.4"/><circle cx="143.85" cy="739.14" r="4.4"/><circle cx="156.91" cy="744.79" r="4.4"/><circle cx="169.96" cy="750.37" r="4.4"/><circle cx="183.01" cy="755.89" r="4.4"/><circle cx="196.06" cy="761.35" r="4.4"/><circle cx="209.12" cy="766.75" r="4.4"/><circle cx="222.17" cy="772.1" r="4.4"/><circle cx="235.22" cy="777.4" r="4.4"/><circle cx="248.28" cy="782.65" r="4.4"/><circle cx="261.33" cy="787.86" r="4.4"/><circle cx="274.38" cy="793.02" r="4.4"/><circle cx="287.44" cy="798.14" r="4.4"/><circle cx="300.49" cy="803.22" r="4.4"/><circle cx="313.54" cy="808.25" r="4.4"/><circle cx="326.59" cy="813.25" r="4.4"/><circle cx="339.65" cy="818.21" r="4.4"/><circle cx="352.7" cy="823.13" r="4.4"/><circle cx="365.75" cy="828.01" r="4.4"/><circle cx="378.81" cy="832.85" r="4.4"/><circle cx="391.86" cy="837.65" r="4.4"/><circle cx="404.91" cy="842.41" r="4.4"/><circle cx="417.96" cy="847.13" r="4.4"/><circle cx="431.02" cy="851.8" r="4.4"/><circle cx="444.07" cy="856.43" r="4.4"/><circle cx="457.12" cy="861.01" r="4.4"/><circle cx="470.18" cy="865.54" r="4.4"/><circle cx="483.23" cy="870.02" r="4.4"/><circle cx="496.28" cy="874.44" r="4.4"/><circle cx="509.34" cy="878.8" r="4.4"/><circle cx="522.39" cy="883.1" r="4.4"/><circle cx="535.44" cy="887.34" r="4.4"/><circle cx="548.49" cy="891.5" r="4.4"/><circle cx="561.55" cy="895.59" r="4.4"/><circle cx="574.6" cy="899.61" r="4.4"/></g>
<g fill="#00f"><path d="M130.8 807.64L136.3 817.64L125.3 817.64Z"/><path d="M143.85 810.72L149.35 820.72L138.35 820.72Z"/><path d="M156.91 813.8L162.41 823.8L151.41 823.8Z"/><path d="M169.96 816.89L175.46 826.89L164.46 826.89Z"/><path d="M183.01 819.97L188.51 829.97L177.51 829.97Z"/><path d="M196.06 823.05L201.56 833.05L190.56 833.05Z"/><path d="M209.12 826.12L214.62 836.12L203.62 836.12Z"/><path d="M222.17 829.17L227.67 839.17L216.67 839.17Z"/><path d="M235.22 832.2L240.72 842.2L229.72 842.2Z"/><path d="M248.28 835.22L253.78 845.22L242.78 845.22Z"/><path d="M261.33 838.22L266.83 848.22L255.83 848.22Z"/><path d="M274.38 841.19L279.88 851.19L268.88 851.19Z"/><path d="M287.44 844.13L292.94 854.13L281.94 854.13Z"/><path d="M300.49 847.05L305.99 857.05L294.99 857.05Z"/><path d="M313.54 849.94L319.04 859.94L308.04 859.94Z"/><path d="M326.59 852.8L332.09 862.8L321.09 862.8Z"/><path d="M339.65 855.63L345.15 865.63L334.15 865.63Z"/><path d="M352.7 858.44L358.2 868.44L347.2 868.44Z"/><path d="M365.75 861.21L371.25 871.21L360.25 871.21Z"/><path d="M378.81 863.96L384.31 873.96L373.31 873.96Z"/><path d="M391.86 866.69L397.36 876.69L386.36 876.69Z"/><path d="M404.91 869.39L410.41 879.39L399.41 879.39Z"/><path d="M417.96 872.07L423.46 882.07L412.46 882.07Z"/><path d="M431.02 874.74L436.52 884.74L425.52 884.74Z"/><path d="M444.07 877.38L449.57 887.38L438.57 887.38Z"/><path d="M457.12 880.01L462.62 890.01L451.62 890.01Z"/><path d="M470.18 882.64L475.68 892.64L464.68 892.64Z"/><path d="M483.23 885.26L488.73 895.26L477.73 895.26Z"/><path d="M496.28 887.88L501.78 897.88L490.78 897.88Z"/><path d="M509.34 890.5L514.84 900.5L503.84 900.5Z"/><path d="M522.39 893.13L527.89 903.13L516.89 903.13Z"/><path d="M535.44 895.77L540.94 905.77L529.94 905.77Z"/><path d="M548.49 898.44L553.99 908.44L542.99 908.44Z"/><path d="M561.55 901.13L567.05 911.13L556.05 911.13Z"/><path d="M574.6 903.85L580.1 913.85L569.1 913.85Z"/></g>
<rect x="342.8" y="569.2" width="165" height="93.5" fill="#fff" stroke="#333" stroke-width="1.1"/>
<g fill="#000"><rect x="366.3" y="578.7" width="8" height="8"/></g>
<g fill="#f00"><circle cx="370.3" cy="613.5" r="4.4"/></g>
<g fill="#00f"><path d="M370.3 639L375.8 649L364.8 649Z"/></g>
<text transform="translate(0 589.7) scale(0.95 1.03)"><tspan x="419.11 431.17 443.1" y="0" font-size="20.6">40-</tspan><tspan x="450.56" y="0" font-family="NanumGothic, &#39;Liberation Sans&#39;, sans-serif" stroke-width="0.52" font-size="18.85">1</tspan><tspan x="462.36 468.41 475.6" y="0" font-size="20.6"> (t</tspan><tspan x="481.7" y="6" font-family="NanumGothic, &#39;Liberation Sans&#39;, sans-serif" stroke-width="0.29" font-size="10.52">1</tspan><tspan x="488.52 501.17 513.2 523.95" y="0" font-size="20.6">=3s)</tspan></text>
<text transform="translate(0 620.5) scale(0.95 1.03)"><tspan x="419.11 431.17 443.1 450.45 462.36 468.41 475.6" y="0" font-size="20.6">40-2 (t</tspan><tspan x="481.7" y="6" font-family="NanumGothic, &#39;Liberation Sans&#39;, sans-serif" stroke-width="0.29" font-size="10.52">1</tspan><tspan x="488.52 501.17 513.2 523.95" y="0" font-size="20.6">=5s)</tspan></text>
<text transform="translate(0 651.3) scale(0.95 1.03)"><tspan x="419.11 431.17 443.1 450.45 462.36 468.41 475.6" y="0" font-size="20.6">40-3 (t</tspan><tspan x="481.7" y="6" font-family="NanumGothic, &#39;Liberation Sans&#39;, sans-serif" stroke-width="0.29" font-size="10.52">1</tspan><tspan x="488.52 501.17 513.2 523.95" y="0" font-size="20.6">=7s)</tspan></text>
<path d="M761.6 543.6V951.5H1308.3M807.16 951.5v8.3M898.27 951.5v8.3M989.39 951.5v8.3M1080.51 951.5v8.3M1171.62 951.5v8.3M1262.74 951.5v8.3M761.6 951.5v4.8M852.72 951.5v4.8M943.83 951.5v4.8M1034.95 951.5v4.8M1126.07 951.5v4.8M1217.18 951.5v4.8M1308.3 951.5v4.8M761.6 951.5h-8.3M761.6 900.51h-8.3M761.6 849.52h-8.3M761.6 798.54h-8.3M761.6 747.55h-8.3M761.6 696.56h-8.3M761.6 645.58h-8.3M761.6 594.59h-8.3M761.6 543.6h-8.3M761.6 926.01h-4.8M761.6 875.02h-4.8M761.6 824.03h-4.8M761.6 773.04h-4.8M761.6 722.06h-4.8M761.6 671.07h-4.8M761.6 620.08h-4.8M761.6 569.09h-4.8" fill="none" stroke="#111" stroke-width="1.7"/>
<text transform="translate(0 980.1) scale(1 1.04)"><tspan x="801.49" y="0" font-size="20.4">5</tspan></text>
<text transform="translate(0 980.1) scale(1 1.04)"><tspan x="887.08" y="0" font-family="NanumGothic, &#39;Liberation Sans&#39;, sans-serif" stroke-width="0.51" font-size="18.67">1</tspan><tspan x="898.27" y="0" font-size="20.4">0</tspan></text>
<text transform="translate(0 980.1) scale(1 1.04)"><tspan x="978.19" y="0" font-family="NanumGothic, &#39;Liberation Sans&#39;, sans-serif" stroke-width="0.51" font-size="18.67">1</tspan><tspan x="989.39" y="0" font-size="20.4">5</tspan></text>
<text transform="translate(0 980.1) scale(1 1.04)"><tspan x="1069.16 1080.51" y="0" font-size="20.4">20</tspan></text>
<text transform="translate(0 980.1) scale(1 1.04)"><tspan x="1160.28 1171.62" y="0" font-size="20.4">25</tspan></text>
<text transform="translate(0 980.1) scale(1 1.04)"><tspan x="1251.4 1262.74" y="0" font-size="20.4">30</tspan></text>
<text transform="translate(0 958.6) scale(1 1.04)"><tspan x="713.96 725.31 736.65" y="0" font-size="20.4">345</tspan></text>
<text transform="translate(0 907.61) scale(1 1.04)"><tspan x="713.96 725.31 736.65" y="0" font-size="20.4">350</tspan></text>
<text transform="translate(0 856.62) scale(1 1.04)"><tspan x="713.96 725.31 736.65" y="0" font-size="20.4">355</tspan></text>
<text transform="translate(0 805.64) scale(1 1.04)"><tspan x="713.96 725.31 736.65" y="0" font-size="20.4">360</tspan></text>
<text transform="translate(0 754.65) scale(1 1.04)"><tspan x="713.96 725.31 736.65" y="0" font-size="20.4">365</tspan></text>
<text transform="translate(0 703.66) scale(1 1.04)"><tspan x="713.96 725.31 736.65" y="0" font-size="20.4">370</tspan></text>
<text transform="translate(0 652.68) scale(1 1.04)"><tspan x="713.96 725.31 736.65" y="0" font-size="20.4">375</tspan></text>
<text transform="translate(0 601.69) scale(1 1.04)"><tspan x="713.96 725.31 736.65" y="0" font-size="20.4">380</tspan></text>
<text transform="translate(0 550.7) scale(1 1.04)"><tspan x="713.96 725.31 736.65" y="0" font-size="20.4">385</tspan></text>
<text transform="translate(683.7 0) rotate(90) scale(1 1)"><tspan x="526.17 542.71 556.5 570.29 578.55 592.34 604.74 611.63 624.03 637.83 651.62 664.02 677.81 698.47 712.26 719.15 724.66 738.46 752.25 759.14 772.93 786.72 794.98 801.87 814.27 819.78 825.29 839.09 859.74 873.54 880.43 894.22 902.48 909.37 917.63 941.03 954.83 961.72 974.12 994.78" y="0" font-size="24.8">Energy consumption per kilometer (Wh/km)</tspan></text>
<text transform="translate(0 1007.8) scale(0.9 1)"><tspan x="1069.43 1085.99 1093.07 1116.01 1131.19 1139.05 1148.6 1162.37" y="0" font-size="25.2">Time (s)</tspan></text>
<g fill="#000"><rect x="803" y="610.65" width="8" height="8"/><rect x="816.41" y="623.73" width="8" height="8"/><rect x="829.82" y="636.49" width="8" height="8"/><rect x="843.24" y="648.91" width="8" height="8"/><rect x="856.65" y="661.01" width="8" height="8"/><rect x="870.06" y="672.79" width="8" height="8"/><rect x="883.47" y="684.25" width="8" height="8"/><rect x="896.88" y="695.39" width="8" height="8"/><rect x="910.29" y="706.21" width="8" height="8"/><rect x="923.71" y="716.72" width="8" height="8"/><rect x="937.12" y="726.91" width="8" height="8"/><rect x="950.53" y="736.79" width="8" height="8"/><rect x="963.94" y="746.36" width="8" height="8"/><rect x="977.35" y="755.62" width="8" height="8"/><rect x="990.76" y="764.57" width="8" height="8"/><rect x="1004.18" y="773.21" width="8" height="8"/><rect x="1017.59" y="781.55" width="8" height="8"/><rect x="1031" y="789.57" width="8" height="8"/><rect x="1044.41" y="797.29" width="8" height="8"/><rect x="1057.82" y="804.71" width="8" height="8"/><rect x="1071.24" y="811.81" width="8" height="8"/><rect x="1084.65" y="818.61" width="8" height="8"/><rect x="1098.06" y="825.11" width="8" height="8"/><rect x="1111.47" y="831.3" width="8" height="8"/><rect x="1124.88" y="837.18" width="8" height="8"/><rect x="1138.29" y="842.76" width="8" height="8"/><rect x="1151.71" y="848.03" width="8" height="8"/><rect x="1165.12" y="852.99" width="8" height="8"/><rect x="1178.53" y="857.64" width="8" height="8"/><rect x="1191.94" y="861.99" width="8" height="8"/><rect x="1205.35" y="866.02" width="8" height="8"/><rect x="1218.76" y="869.74" width="8" height="8"/><rect x="1232.18" y="873.15" width="8" height="8"/><rect x="1245.59" y="876.25" width="8" height="8"/><rect x="1259" y="879.03" width="8" height="8"/></g>
<g fill="#f00"><circle cx="807" cy="728.56" r="4.4"/><circle cx="820.41" cy="735.76" r="4.4"/><circle cx="833.82" cy="742.79" r="4.4"/><circle cx="847.24" cy="749.65" r="4.4"/><circle cx="860.65" cy="756.34" r="4.4"/><circle cx="874.06" cy="762.87" r="4.4"/><circle cx="887.47" cy="769.22" r="4.4"/><circle cx="900.88" cy="775.42" r="4.4"/><circle cx="914.29" cy="781.45" r="4.4"/><circle cx="927.71" cy="787.32" r="4.4"/><circle cx="941.12" cy="793.03" r="4.4"/><circle cx="954.53" cy="798.57" r="4.4"/><circle cx="967.94" cy="803.96" r="4.4"/><circle cx="981.35" cy="809.2" r="4.4"/><circle cx="994.76" cy="814.27" r="4.4"/><circle cx="1008.18" cy="819.19" r="4.4"/><circle cx="1021.59" cy="823.95" r="4.4"/><circle cx="1035" cy="828.55" r="4.4"/><circle cx="1048.41" cy="833" r="4.4"/><circle cx="1061.82" cy="837.29" r="4.4"/><circle cx="1075.24" cy="841.42" r="4.4"/><circle cx="1088.65" cy="845.4" r="4.4"/><circle cx="1102.06" cy="849.22" r="4.4"/><circle cx="1115.47" cy="852.87" r="4.4"/><circle cx="1128.88" cy="856.37" r="4.4"/><circle cx="1142.29" cy="859.71" r="4.4"/><circle cx="1155.71" cy="862.89" r="4.4"/><circle cx="1169.12" cy="865.91" r="4.4"/><circle cx="1182.53" cy="868.76" r="4.4"/><circle cx="1195.94" cy="871.44" r="4.4"/><circle cx="1209.35" cy="873.96" r="4.4"/><circle cx="1222.76" cy="876.31" r="4.4"/><circle cx="1236.18" cy="878.49" r="4.4"/><circle cx="1249.59" cy="880.5" r="4.4"/><circle cx="1263" cy="882.33" r="4.4"/></g>
<g fill="#00f"><path d="M807 818.55L812.5 828.55L801.5 828.55Z"/><path d="M820.41 822.09L825.91 832.09L814.91 832.09Z"/><path d="M833.82 825.55L839.32 835.55L828.32 835.55Z"/><path d="M847.24 828.92L852.74 838.92L841.74 838.92Z"/><path d="M860.65 832.21L866.15 842.21L855.15 842.21Z"/><path d="M874.06 835.43L879.56 845.43L868.56 845.43Z"/><path d="M887.47 838.56L892.97 848.56L881.97 848.56Z"/><path d="M900.88 841.61L906.38 851.61L895.38 851.61Z"/><path d="M914.29 844.58L919.79 854.58L908.79 854.58Z"/><path d="M927.71 847.47L933.21 857.47L922.21 857.47Z"/><path d="M941.12 850.28L946.62 860.28L935.62 860.28Z"/><path d="M954.53 853.01L960.03 863.01L949.03 863.01Z"/><path d="M967.94 855.67L973.44 865.67L962.44 865.67Z"/><path d="M981.35 858.25L986.85 868.25L975.85 868.25Z"/><path d="M994.76 860.75L1000.26 870.75L989.26 870.75Z"/><path d="M1008.18 863.18L1013.68 873.18L1002.68 873.18Z"/><path d="M1021.59 865.54L1027.09 875.54L1016.09 875.54Z"/><path d="M1035 867.82L1040.5 877.82L1029.5 877.82Z"/><path d="M1048.41 870.03L1053.91 880.03L1042.91 880.03Z"/><path d="M1061.82 872.17L1067.32 882.17L1056.32 882.17Z"/><path d="M1075.24 874.24L1080.74 884.24L1069.74 884.24Z"/><path d="M1088.65 876.24L1094.15 886.24L1083.15 886.24Z"/><path d="M1102.06 878.17L1107.56 888.17L1096.56 888.17Z"/><path d="M1115.47 880.03L1120.97 890.03L1109.97 890.03Z"/><path d="M1128.88 881.83L1134.38 891.83L1123.38 891.83Z"/><path d="M1142.29 883.56L1147.79 893.56L1136.79 893.56Z"/><path d="M1155.71 885.23L1161.21 895.23L1150.21 895.23Z"/><path d="M1169.12 886.84L1174.62 896.84L1163.62 896.84Z"/><path d="M1182.53 888.38L1188.03 898.38L1177.03 898.38Z"/><path d="M1195.94 889.87L1201.44 899.87L1190.44 899.87Z"/><path d="M1209.35 891.3L1214.85 901.3L1203.85 901.3Z"/><path d="M1222.76 892.67L1228.26 902.67L1217.26 902.67Z"/><path d="M1236.18 893.99L1241.68 903.99L1230.68 903.99Z"/><path d="M1249.59 895.25L1255.09 905.25L1244.09 905.25Z"/><path d="M1263 896.46L1268.5 906.46L1257.5 906.46Z"/></g>
<rect x="1006.5" y="552.4" width="183.5" height="96.6" fill="#fff" stroke="#333" stroke-width="1.1"/>
<g fill="#000"><rect x="1031.2" y="563.1" width="8" height="8"/></g>
<g fill="#f00"><circle cx="1035.2" cy="598.3" r="4.4"/></g>
<g fill="#00f"><path d="M1035.2 624.6L1040.7 634.6L1029.7 634.6Z"/></g>
<text transform="translate(0 573.6) scale(0.95 1.03)"><tspan x="1119.94 1132.14 1144.23" y="0" font-size="20.85">80-</tspan><tspan x="1151.77" y="0" font-family="NanumGothic, &#39;Liberation Sans&#39;, sans-serif" stroke-width="0.52" font-size="19.08">1</tspan><tspan x="1163.71 1169.84 1177.12" y="0" font-size="20.85"> (t</tspan><tspan x="1183.29" y="6" font-family="NanumGothic, &#39;Liberation Sans&#39;, sans-serif" stroke-width="0.29" font-size="10.52">1</tspan><tspan x="1190.11 1202.92 1215.09 1225.97" y="0" font-size="20.85">=6s)</tspan></text>
<text transform="translate(0 605.4) scale(0.95 1.03)"><tspan x="1119.94 1132.14 1144.23 1151.66 1163.71 1169.84 1177.12" y="0" font-size="20.85">80-2 (t</tspan><tspan x="1183.29" y="6" font-family="NanumGothic, &#39;Liberation Sans&#39;, sans-serif" stroke-width="0.29" font-size="10.52">1</tspan><tspan x="1190.11" y="0" font-size="20.85">=</tspan><tspan x="1203.03" y="0" font-family="NanumGothic, &#39;Liberation Sans&#39;, sans-serif" stroke-width="0.52" font-size="19.08">1</tspan><tspan x="1215.12 1227.3 1238.18" y="0" font-size="20.85">0s)</tspan></text>
<text transform="translate(0 637.8) scale(0.95 1.03)"><tspan x="1119.94 1132.14 1144.23 1151.66 1163.71 1169.84 1177.12" y="0" font-size="20.85">80-3 (t</tspan><tspan x="1183.29" y="6" font-family="NanumGothic, &#39;Liberation Sans&#39;, sans-serif" stroke-width="0.29" font-size="10.52">1</tspan><tspan x="1190.11" y="0" font-size="20.85">=</tspan><tspan x="1203.03" y="0" font-family="NanumGothic, &#39;Liberation Sans&#39;, sans-serif" stroke-width="0.52" font-size="19.08">1</tspan><tspan x="1215.12 1227.3 1238.18" y="0" font-size="20.85">4s)</tspan></text>
<path d="M1447.9 541.8V939.8H1982M1447.9 939.8v8.3M1554.72 939.8v8.3M1661.54 939.8v8.3M1768.36 939.8v8.3M1875.18 939.8v8.3M1982 939.8v8.3M1501.31 939.8v4.8M1608.13 939.8v4.8M1714.95 939.8v4.8M1821.77 939.8v4.8M1928.59 939.8v4.8M1447.9 919.9h-8.3M1447.9 880.1h-8.3M1447.9 840.3h-8.3M1447.9 800.5h-8.3M1447.9 760.7h-8.3M1447.9 720.9h-8.3M1447.9 681.1h-8.3M1447.9 641.3h-8.3M1447.9 601.5h-8.3M1447.9 561.7h-8.3M1447.9 939.8h-4.8M1447.9 900h-4.8M1447.9 860.2h-4.8M1447.9 820.4h-4.8M1447.9 780.6h-4.8M1447.9 740.8h-4.8M1447.9 701h-4.8M1447.9 661.2h-4.8M1447.9 621.4h-4.8M1447.9 581.6h-4.8M1447.9 541.8h-4.8" fill="none" stroke="#111" stroke-width="1.7"/>
<text transform="translate(0 968.4) scale(1 1.04)"><tspan x="1442.23" y="0" font-size="20.4">0</tspan></text>
<text transform="translate(0 968.4) scale(1 1.04)"><tspan x="1543.52" y="0" font-family="NanumGothic, &#39;Liberation Sans&#39;, sans-serif" stroke-width="0.51" font-size="18.67">1</tspan><tspan x="1554.72" y="0" font-size="20.4">0</tspan></text>
<text transform="translate(0 968.4) scale(1 1.04)"><tspan x="1650.19 1661.54" y="0" font-size="20.4">20</tspan></text>
<text transform="translate(0 968.4) scale(1 1.04)"><tspan x="1757.01 1768.36" y="0" font-size="20.4">30</tspan></text>
<text transform="translate(0 968.4) scale(1 1.04)"><tspan x="1863.83 1875.18" y="0" font-size="20.4">40</tspan></text>
<text transform="translate(0 968.4) scale(1 1.04)"><tspan x="1970.65 1982" y="0" font-size="20.4">50</tspan></text>
<text transform="translate(0 927) scale(1 1.04)"><tspan x="1400.26" y="0" font-size="20.4">4</tspan><tspan x="1411.76" y="0" font-family="NanumGothic, &#39;Liberation Sans&#39;, sans-serif" stroke-width="0.51" font-size="18.67">1</tspan><tspan x="1422.95" y="0" font-size="20.4">4</tspan></text>
<text transform="translate(0 887.2) scale(1 1.04)"><tspan x="1400.26" y="0" font-size="20.4">4</tspan><tspan x="1411.76" y="0" font-family="NanumGothic, &#39;Liberation Sans&#39;, sans-serif" stroke-width="0.51" font-size="18.67">1</tspan><tspan x="1422.95" y="0" font-size="20.4">6</tspan></text>
<text transform="translate(0 847.4) scale(1 1.04)"><tspan x="1400.26" y="0" font-size="20.4">4</tspan><tspan x="1411.76" y="0" font-family="NanumGothic, &#39;Liberation Sans&#39;, sans-serif" stroke-width="0.51" font-size="18.67">1</tspan><tspan x="1422.95" y="0" font-size="20.4">8</tspan></text>
<text transform="translate(0 807.6) scale(1 1.04)"><tspan x="1400.26 1411.61 1422.95" y="0" font-size="20.4">420</tspan></text>
<text transform="translate(0 767.8) scale(1 1.04)"><tspan x="1400.26 1411.61 1422.95" y="0" font-size="20.4">422</tspan></text>
<text transform="translate(0 728) scale(1 1.04)"><tspan x="1400.26 1411.61 1422.95" y="0" font-size="20.4">424</tspan></text>
<text transform="translate(0 688.2) scale(1 1.04)"><tspan x="1400.26 1411.61 1422.95" y="0" font-size="20.4">426</tspan></text>
<text transform="translate(0 648.4) scale(1 1.04)"><tspan x="1400.26 1411.61 1422.95" y="0" font-size="20.4">428</tspan></text>
<text transform="translate(0 608.6) scale(1 1.04)"><tspan x="1400.26 1411.61 1422.95" y="0" font-size="20.4">430</tspan></text>
<text transform="translate(0 568.8) scale(1 1.04)"><tspan x="1400.26 1411.61 1422.95" y="0" font-size="20.4">432</tspan></text>
<text transform="translate(1368.5 0) rotate(90) scale(1 1)"><tspan x="525.62 541.71 555.13 568.55 576.58 590 602.06 608.76 620.82 634.24 647.66 659.72 673.13 693.23 706.65 713.35 718.71 732.13 745.54 752.24 765.66 779.08 787.11 793.81 805.88 811.24 816.6 830.01 850.11 863.52 870.23 883.64 891.68 898.38 906.41 929.18 942.6 949.3 961.36 981.46" y="0" font-size="24.12">Energy consumption per kilometer (Wh/km)</tspan></text>
<text transform="translate(0 1004.3) scale(0.9 1)"><tspan x="1846.44 1862.71 1869.66 1892.18 1907.1 1914.81 1924.2 1937.72" y="0" font-size="24.75">Time (s)</tspan></text>
<g fill="#000"><rect x="1497" y="565.76" width="8" height="8"/><rect x="1509.58" y="589.28" width="8" height="8"/><rect x="1522.16" y="611.69" width="8" height="8"/><rect x="1534.75" y="632.98" width="8" height="8"/><rect x="1547.33" y="653.16" width="8" height="8"/><rect x="1559.91" y="672.22" width="8" height="8"/><rect x="1572.49" y="690.15" width="8" height="8"/><rect x="1585.08" y="706.96" width="8" height="8"/><rect x="1597.66" y="722.63" width="8" height="8"/><rect x="1610.24" y="737.18" width="8" height="8"/><rect x="1622.82" y="750.59" width="8" height="8"/><rect x="1635.41" y="762.86" width="8" height="8"/><rect x="1647.99" y="773.99" width="8" height="8"/><rect x="1660.57" y="783.98" width="8" height="8"/><rect x="1673.15" y="792.82" width="8" height="8"/><rect x="1685.74" y="800.52" width="8" height="8"/><rect x="1698.32" y="807.06" width="8" height="8"/><rect x="1710.9" y="812.45" width="8" height="8"/><rect x="1723.48" y="816.69" width="8" height="8"/><rect x="1736.06" y="819.77" width="8" height="8"/><rect x="1748.65" y="821.69" width="8" height="8"/><rect x="1761.23" y="822.44" width="8" height="8"/><rect x="1773.81" y="822.03" width="8" height="8"/><rect x="1786.39" y="820.45" width="8" height="8"/><rect x="1798.98" y="817.71" width="8" height="8"/><rect x="1811.56" y="813.79" width="8" height="8"/><rect x="1824.14" y="808.7" width="8" height="8"/><rect x="1836.72" y="802.43" width="8" height="8"/><rect x="1849.31" y="794.98" width="8" height="8"/><rect x="1861.89" y="786.36" width="8" height="8"/><rect x="1874.47" y="776.55" width="8" height="8"/><rect x="1887.05" y="765.56" width="8" height="8"/><rect x="1899.64" y="753.38" width="8" height="8"/><rect x="1912.22" y="740.02" width="8" height="8"/><rect x="1924.8" y="725.46" width="8" height="8"/></g>
<g fill="#f00"><circle cx="1501" cy="767.02" r="4.4"/><circle cx="1513.58" cy="777.68" r="4.4"/><circle cx="1526.16" cy="787.71" r="4.4"/><circle cx="1538.75" cy="797.12" r="4.4"/><circle cx="1551.33" cy="805.9" r="4.4"/><circle cx="1563.91" cy="814.05" r="4.4"/><circle cx="1576.49" cy="821.58" r="4.4"/><circle cx="1589.08" cy="828.49" r="4.4"/><circle cx="1601.66" cy="834.77" r="4.4"/><circle cx="1614.24" cy="840.42" r="4.4"/><circle cx="1626.82" cy="845.45" r="4.4"/><circle cx="1639.41" cy="849.85" r="4.4"/><circle cx="1651.99" cy="853.63" r="4.4"/><circle cx="1664.57" cy="856.78" r="4.4"/><circle cx="1677.15" cy="859.29" r="4.4"/><circle cx="1689.74" cy="861.18" r="4.4"/><circle cx="1702.32" cy="862.44" r="4.4"/><circle cx="1714.9" cy="863.06" r="4.4"/><circle cx="1727.48" cy="863.05" r="4.4"/><circle cx="1740.06" cy="862.4" r="4.4"/><circle cx="1752.65" cy="861.11" r="4.4"/><circle cx="1765.23" cy="859.17" r="4.4"/><circle cx="1777.81" cy="856.6" r="4.4"/><circle cx="1790.39" cy="853.38" r="4.4"/><circle cx="1802.98" cy="849.5" r="4.4"/><circle cx="1815.56" cy="844.98" r="4.4"/><circle cx="1828.14" cy="839.8" r="4.4"/><circle cx="1840.72" cy="833.96" r="4.4"/><circle cx="1853.31" cy="827.46" r="4.4"/><circle cx="1865.89" cy="820.3" r="4.4"/><circle cx="1878.47" cy="812.47" r="4.4"/><circle cx="1891.05" cy="803.96" r="4.4"/><circle cx="1903.64" cy="794.77" r="4.4"/><circle cx="1916.22" cy="784.91" r="4.4"/><circle cx="1928.8" cy="774.35" r="4.4"/></g>
<g fill="#00f"><path d="M1501 890.63L1506.5 900.63L1495.5 900.63Z"/><path d="M1513.58 894.03L1519.08 904.03L1508.08 904.03Z"/><path d="M1526.16 897.12L1531.66 907.12L1520.66 907.12Z"/><path d="M1538.75 899.89L1544.25 909.89L1533.25 909.89Z"/><path d="M1551.33 902.34L1556.83 912.34L1545.83 912.34Z"/><path d="M1563.91 904.5L1569.41 914.5L1558.41 914.5Z"/><path d="M1576.49 906.34L1581.99 916.34L1570.99 916.34Z"/><path d="M1589.08 907.88L1594.58 917.88L1583.58 917.88Z"/><path d="M1601.66 909.12L1607.16 919.12L1596.16 919.12Z"/><path d="M1614.24 910.06L1619.74 920.06L1608.74 920.06Z"/><path d="M1626.82 910.7L1632.32 920.7L1621.32 920.7Z"/><path d="M1639.41 911.04L1644.91 921.04L1633.91 921.04Z"/><path d="M1651.99 911.08L1657.49 921.08L1646.49 921.08Z"/><path d="M1664.57 910.82L1670.07 920.82L1659.07 920.82Z"/><path d="M1677.15 910.26L1682.65 920.26L1671.65 920.26Z"/><path d="M1689.74 909.41L1695.24 919.41L1684.24 919.41Z"/><path d="M1702.32 908.25L1707.82 918.25L1696.82 918.25Z"/><path d="M1714.9 906.8L1720.4 916.8L1709.4 916.8Z"/><path d="M1727.48 905.05L1732.98 915.05L1721.98 915.05Z"/><path d="M1740.06 902.99L1745.56 912.99L1734.56 912.99Z"/><path d="M1752.65 900.62L1758.15 910.62L1747.15 910.62Z"/><path d="M1765.23 897.96L1770.73 907.96L1759.73 907.96Z"/><path d="M1777.81 894.98L1783.31 904.98L1772.31 904.98Z"/><path d="M1790.39 891.69L1795.89 901.69L1784.89 901.69Z"/><path d="M1802.98 888.09L1808.48 898.09L1797.48 898.09Z"/><path d="M1815.56 884.17L1821.06 894.17L1810.06 894.17Z"/><path d="M1828.14 879.93L1833.64 889.93L1822.64 889.93Z"/><path d="M1840.72 875.37L1846.22 885.37L1835.22 885.37Z"/><path d="M1853.31 870.48L1858.81 880.48L1847.81 880.48Z"/><path d="M1865.89 865.26L1871.39 875.26L1860.39 875.26Z"/><path d="M1878.47 859.7L1883.97 869.7L1872.97 869.7Z"/><path d="M1891.05 853.8L1896.55 863.8L1885.55 863.8Z"/><path d="M1903.64 847.56L1909.14 857.56L1898.14 857.56Z"/><path d="M1916.22 840.96L1921.72 850.96L1910.72 850.96Z"/><path d="M1928.8 834.01L1934.3 844.01L1923.3 844.01Z"/></g>
<rect x="1741.5" y="566.3" width="189" height="94.3" fill="#fff" stroke="#333" stroke-width="1.1"/>
<g fill="#000"><rect x="1765.3" y="576.4" width="8" height="8"/></g>
<g fill="#f00"><circle cx="1769.3" cy="611.1" r="4.4"/></g>
<g fill="#00f"><path d="M1769.3 636.7L1774.8 646.7L1763.8 646.7Z"/></g>
<text transform="translate(0 587.2) scale(0.95 1.03)"><tspan x="1893.29" y="0" font-family="NanumGothic, &#39;Liberation Sans&#39;, sans-serif" stroke-width="0.51" font-size="18.67">1</tspan><tspan x="1905.13 1917.07 1928.89" y="0" font-size="20.4">20-</tspan><tspan x="1936.27" y="0" font-family="NanumGothic, &#39;Liberation Sans&#39;, sans-serif" stroke-width="0.51" font-size="18.67">1</tspan><tspan x="1947.95 1953.95 1961.07" y="0" font-size="20.4"> (t</tspan><tspan x="1967.12" y="6" font-family="NanumGothic, &#39;Liberation Sans&#39;, sans-serif" stroke-width="0.29" font-size="10.52">1</tspan><tspan x="1973.93 1986.46 1998.37 2009.02" y="0" font-size="20.4">=9s)</tspan></text>
<text transform="translate(0 618.3) scale(0.95 1.03)"><tspan x="1893.29" y="0" font-family="NanumGothic, &#39;Liberation Sans&#39;, sans-serif" stroke-width="0.51" font-size="18.67">1</tspan><tspan x="1905.13 1917.07 1928.89 1936.16 1947.95 1953.95 1961.07" y="0" font-size="20.4">20-2 (t</tspan><tspan x="1967.12" y="6" font-family="NanumGothic, &#39;Liberation Sans&#39;, sans-serif" stroke-width="0.29" font-size="10.52">1</tspan><tspan x="1973.93" y="0" font-size="20.4">=</tspan><tspan x="1986.57" y="0" font-family="NanumGothic, &#39;Liberation Sans&#39;, sans-serif" stroke-width="0.51" font-size="18.67">1</tspan><tspan x="1998.4 2010.32 2020.96" y="0" font-size="20.4">5s)</tspan></text>
<text transform="translate(0 648.8) scale(0.95 1.03)"><tspan x="1893.29" y="0" font-family="NanumGothic, &#39;Liberation Sans&#39;, sans-serif" stroke-width="0.51" font-size="18.67">1</tspan><tspan x="1905.13 1917.07 1928.89 1936.16 1947.95 1953.95 1961.07" y="0" font-size="20.4">20-3 (t</tspan><tspan x="1967.12" y="6" font-family="NanumGothic, &#39;Liberation Sans&#39;, sans-serif" stroke-width="0.29" font-size="10.52">1</tspan><tspan x="1973.93 1986.46" y="0" font-size="20.4">=2</tspan><tspan x="1998.51" y="0" font-family="NanumGothic, &#39;Liberation Sans&#39;, sans-serif" stroke-width="0.51" font-size="18.67">1</tspan><tspan x="2010.32 2020.96" y="0" font-size="20.4">s)</tspan></text>
</svg></body></html>
